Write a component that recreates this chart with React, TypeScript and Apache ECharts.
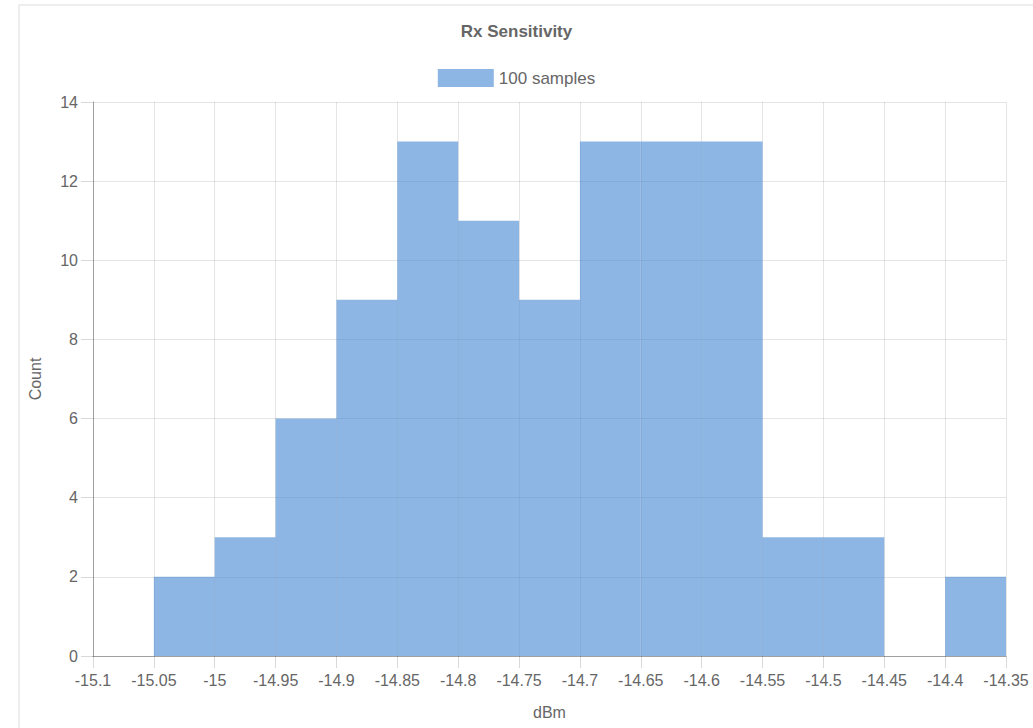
import React, { useEffect, useRef } from "react";
import * as echarts from "echarts";

const binEdges = [-15.1, -15.05, -15, -14.95, -14.9, -14.85, -14.8, -14.75, -14.7, -14.65, -14.6, -14.55, -14.5, -14.45, -14.4, -14.35];
const counts = [0, 2, 3, 6, 9, 13, 11, 9, 13, 13, 13, 3, 3, 0, 2];
const seriesName = "100 samples";
const titleText = "Rx Sensitivity";
const xName = "dBm";
const yName = "Count";

const FONT = "'Liberation Sans', Arial, Helvetica, sans-serif";
const BAR = "rgba(66,133,210,0.6)";

export default function App() {
  const ref = useRef<HTMLDivElement>(null);
  useEffect(() => {
    if (!ref.current) return;
    const chart = echarts.init(ref.current, undefined, { renderer: "svg" });
    const data = counts.map((c, i) => [binEdges[i], binEdges[i + 1], c]);
    chart.setOption({
      animation: false,
      backgroundColor: "#ffffff",
      textStyle: { fontFamily: FONT },
      title: {
        text: titleText,
        left: "center",
        top: 23,
        padding: 0,
        textStyle: { fontFamily: FONT, fontSize: 17, fontWeight: "bold", color: "#666666" },
      },
      legend: {
        top: 69,
        padding: 0,
        left: "center",
        itemWidth: 56,
        itemHeight: 18,
        itemGap: 10,
        icon: "rect",
        data: [{ name: seriesName, itemStyle: { color: BAR } }],
        textStyle: { fontFamily: FONT, fontSize: 17, color: "#666666" },
      },
      graphic: [
        {
          type: "rect",
          shape: { x: 19, y: 5, width: 1040, height: 760 },
          style: { fill: "none", stroke: "#eeeeee", lineWidth: 2 },
          silent: true,
        },
      ],
      grid: { left: 93, right: 27, top: 102, bottom: 72, containLabel: false },
      xAxis: {
        type: "value",
        min: -15.1,
        max: -14.35,
        interval: 0.05,
        name: xName,
        nameLocation: "middle",
        nameGap: 48,
        nameTextStyle: { fontFamily: FONT, fontSize: 16, color: "#666666" },
        axisLine: { show: true, lineStyle: { color: "rgba(0,0,0,0.3)", width: 1 } },
        axisTick: { show: true, length: 12, lineStyle: { color: "rgba(0,0,0,0.15)" } },
        splitLine: { show: true, lineStyle: { color: "rgba(0,0,0,0.1)" } },
        axisLabel: {
          fontFamily: FONT,
          fontSize: 16,
          color: "#666666",
          margin: 16,
          formatter: (v: number) => String(parseFloat(v.toFixed(2))),
        },
      },
      yAxis: {
        type: "value",
        min: 0,
        max: 14,
        interval: 2,
        name: yName,
        nameLocation: "middle",
        nameGap: 50,
        nameTextStyle: { fontFamily: FONT, fontSize: 16, color: "#666666" },
        axisLine: { show: true, lineStyle: { color: "rgba(0,0,0,0.3)", width: 1 } },
        axisTick: { show: true, length: 12, lineStyle: { color: "rgba(0,0,0,0.15)" } },
        splitLine: { show: true, lineStyle: { color: "rgba(0,0,0,0.1)" } },
        axisLabel: { fontFamily: FONT, fontSize: 16, color: "#666666", margin: 15 },
      },
      series: [
        {
          type: "custom",
          name: seriesName,
          data,
          encode: { x: [0, 1], y: 2 },
          renderItem: (params: any, api: any) => {
            const x0 = api.value(0);
            const x1 = api.value(1);
            const y = api.value(2);
            const p0 = api.coord([x0, y]);
            const p1 = api.coord([x1, 0]);
            return {
              type: "rect",
              shape: { x: p0[0], y: p0[1], width: p1[0] - p0[0], height: p1[1] - p0[1] },
              style: { fill: BAR },
            };
          },
          itemStyle: { color: BAR },
        },
      ],
    });
    return () => chart.dispose();
  }, []);
  return (
    <div
      ref={ref}
      style={{ position: "absolute", left: 0, top: 0, width: 1033, height: 728 }}
    />
  );
}
